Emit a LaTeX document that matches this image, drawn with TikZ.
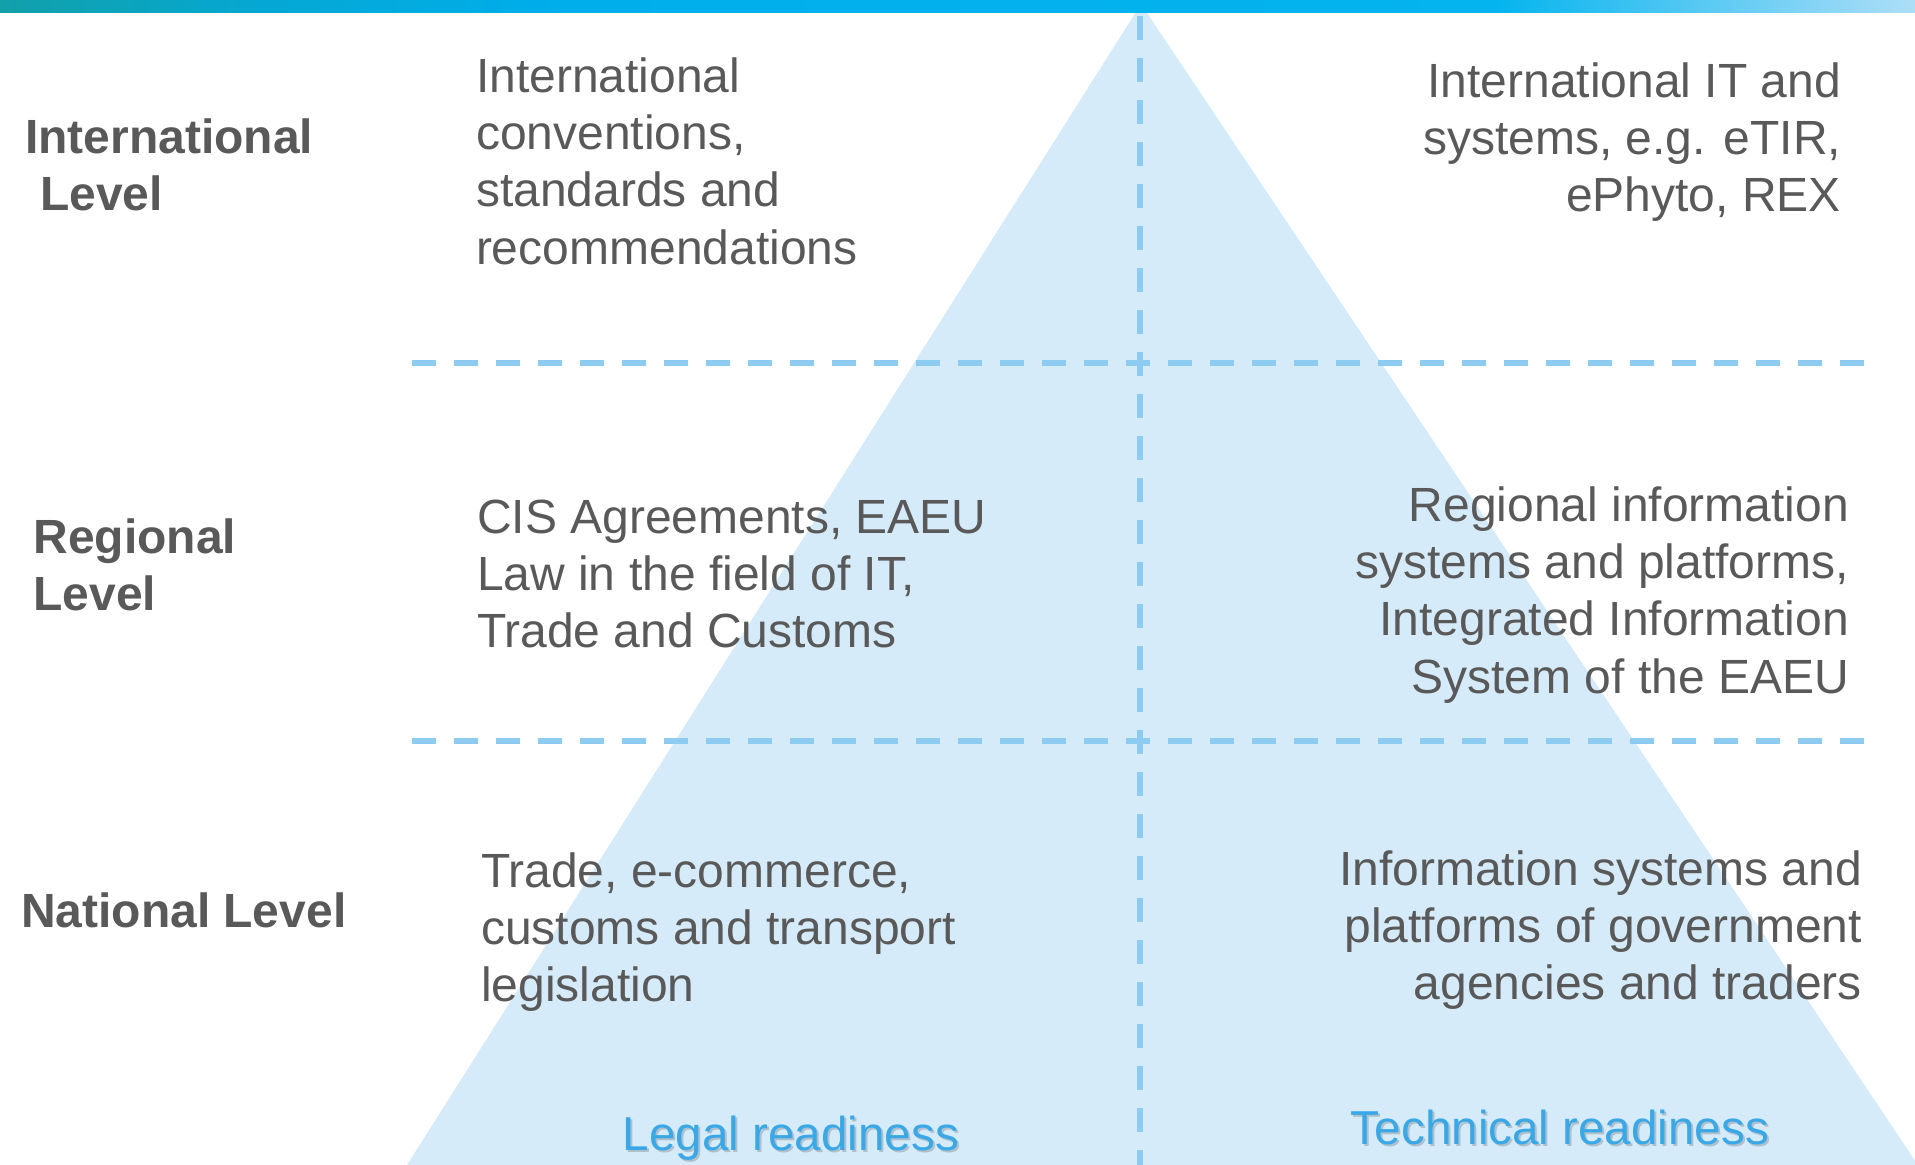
\documentclass[tikz,border=0pt]{standalone}
\usepackage{fontspec}
\setmainfont{Liberation Sans}
\usetikzlibrary{shadings}

\definecolor{txtgray}{HTML}{595959}
\definecolor{readyblue}{HTML}{3AA8E6}
\definecolor{pyrfill}{HTML}{D6EBFA}
\definecolor{dashblue}{HTML}{8DCBF1}
\definecolor{bnA}{HTML}{12A0A9}
\definecolor{bnB}{HTML}{05A8D4}
\definecolor{bnC}{HTML}{00AEEC}
\definecolor{bnD}{HTML}{04B4EE}
\definecolor{bnE}{HTML}{AEDEF7}

% header band colour run (the part used by a path spans 25bp..75bp)
\pgfdeclarehorizontalshading{headerband}{100bp}{%
  color(0bp)=(bnA); color(25bp)=(bnA); color(32bp)=(bnB); color(40bp)=(bnC);
  color(64bp)=(bnD); color(75bp)=(bnE); color(100bp)=(bnE)}

% multi-line block whose baseline is that of its first row
\newcommand\blocklines[2]{\begin{tabular}[t]{@{}#1@{}}#2\end{tabular}}

\tikzset{
  bodytext/.style={inner sep=0pt, outer sep=0pt, text=txtgray,
    font=\fontsize{48pt}{57.4pt}\selectfont},
  leveltext/.style={bodytext, font=\fontsize{48pt}{57.4pt}\selectfont\bfseries},
  readytext/.style={inner sep=0pt, outer sep=0pt, text=readyblue,
    font=\fontsize{47.6pt}{57.4pt}\selectfont},
  readyshadow/.style={readytext, text=black, text opacity=0.18},
  gridline/.style={draw=dashblue, line width=6pt,
    dash pattern=on 24pt off 18pt},
}

\begin{document}
\begin{tikzpicture}[x=1pt,y=-1pt]
  \useasboundingbox (0,0) rectangle (1915,1165);

  % pyramid
  \coordinate (apex) at (1141,4);
  \coordinate (baseL) at (407,1165);
  \coordinate (baseR) at (1918,1165);
  \fill[pyrfill] (apex) -- (baseL) -- (baseR) -- cycle;

  % header band
  \shade[shading=headerband] (0,0) rectangle (1915,12);

  % dashed grid
  \coordinate (vtop) at (1140,16);
  \coordinate (vbot) at (1140,1170);
  \coordinate (h1L) at (412,363);
  \coordinate (h1R) at (1864,363);
  \coordinate (h2L) at (412,741);
  \coordinate (h2R) at (1864,741);
  \draw[gridline] (vtop) -- (vbot);
  \draw[gridline] (h1L) -- (h1R);
  \draw[gridline] (h2L) -- (h2R);

  % level labels
  \node[leveltext, anchor=base west] (intl) at (25,153.5)
    {\blocklines{l}{International\\\hspace*{15pt}Level}};
  \node[leveltext, anchor=base west] (regl) at (33.5,553)
    {\blocklines{l}{Regional\\Level}};
  \node[leveltext, anchor=base west] (natl) at (21,927.5)
    {National Level};

  % legal column
  \node[bodytext, anchor=base west] (legalI) at (476,92)
    {\blocklines{l}{International\\conventions,\\standards and\\recommendations}};
  \node[bodytext, anchor=base west] (legalR) at (477,533)
    {\blocklines{l}{CIS Agreements, EAEU\\Law in the field of IT,\\Trade and Customs}};
  \node[bodytext, anchor=base west] (legalN) at (481,887)
    {\blocklines{l}{Trade, e-commerce,\\customs and transport\\legislation}};

  % technical column
  \node[bodytext, anchor=base east] (techI) at (1841,97)
    {\blocklines{r}{International IT and\\systems, e.g. eTIR,\\ePhyto, REX}};
  \node[bodytext, anchor=base east] (techR) at (1849,521)
    {\blocklines{r}{Regional information\\systems and platforms,\\Integrated Information\\System of the EAEU}};
  \node[bodytext, anchor=base east] (techN) at (1862,885)
    {\blocklines{r}{Information systems and\\platforms of government\\agencies and traders}};

  % column captions
  \node[readyshadow, anchor=base] (legalcapS) at (793,1152) {Legal readiness};
  \node[readytext, anchor=base] (legalcap) at (791,1150) {Legal readiness};
  \node[readyshadow, anchor=base] (techcapS) at (1562,1146) {Technical readiness};
  \node[readytext, anchor=base] (techcap) at (1560,1144) {Technical readiness};
\end{tikzpicture}
\end{document}
